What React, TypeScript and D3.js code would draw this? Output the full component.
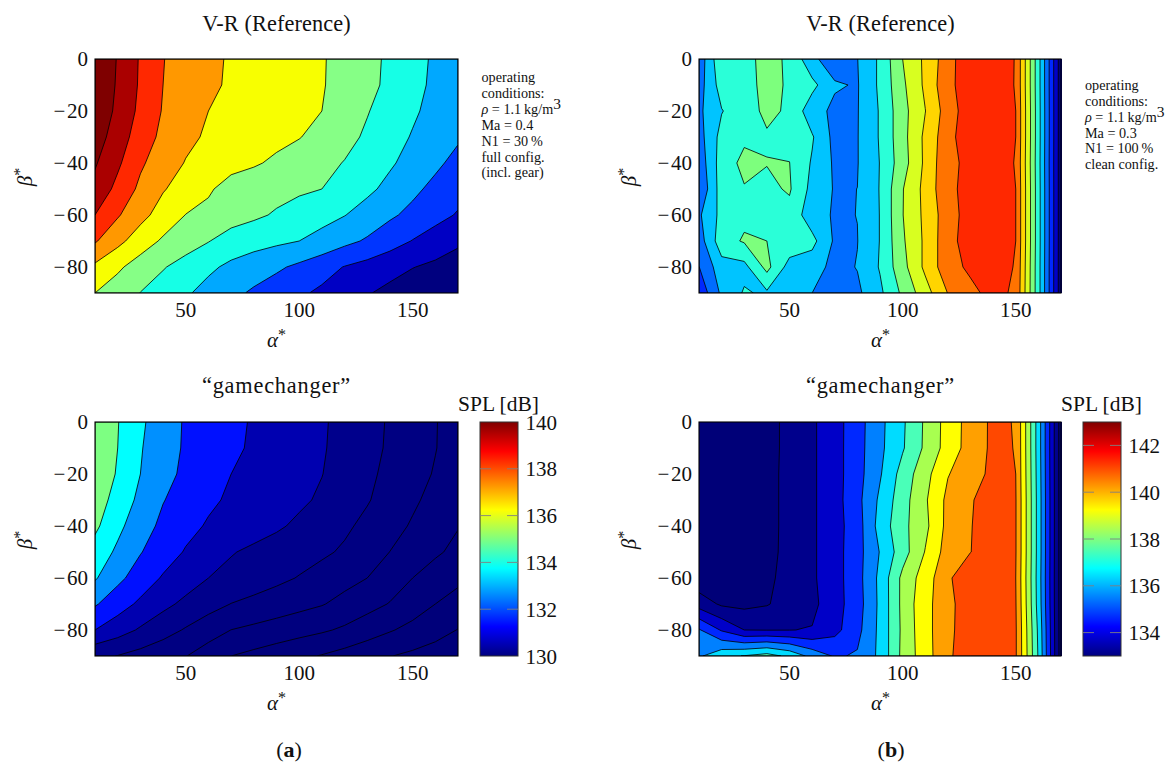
import React from "react";
import * as d3 from "d3";

const alphaGrid = [10, 20, 30, 40, 50, 60, 70, 80, 90, 100, 110, 120, 130, 140, 150, 160, 170];
const betaGrid = [0, -10, -20, -30, -40, -50, -60, -70, -80, -90];
const xTicks = [50, 100, 150];
const yTicks = [0, -20, -40, -60, -80];

// contour-level units, rows follow betaGrid, columns follow alphaGrid
const valuesFullRef = [
  [11, 9.93, 8.9, 8.03, 7.61, 7.21, 6.9, 6.69, 6.48, 6.28, 6.07, 5.71, 5.28, 4.83, 4.34, 3.85, 3.35],
  [10.9, 9.88, 8.87, 8, 7.59, 7.17, 6.88, 6.67, 6.47, 6.26, 6.06, 5.69, 5.25, 4.8, 4.3, 3.8, 3.3],
  [10.8, 9.77, 8.77, 7.93, 7.47, 7, 6.8, 6.6, 6.4, 6.2, 6, 5.52, 5.05, 4.6, 4.14, 3.7, 3.25],
  [10.5, 9.5, 8.53, 7.76, 7.22, 6.87, 6.67, 6.46, 6.25, 6.04, 5.68, 5.28, 4.86, 4.38, 3.93, 3.52, 3.12],
  [10.1, 9.17, 8.15, 7.48, 6.95, 6.67, 6.38, 6.11, 5.83, 5.54, 5.26, 4.96, 4.54, 4.12, 3.67, 3.19, 2.72],
  [9.7, 8.73, 7.79, 7.07, 6.6, 6.15, 5.54, 5.42, 5.29, 5.15, 5, 4.6, 4.2, 3.74, 3.21, 2.75, 2.33],
  [9, 8.1, 7.3, 6.6, 5.98, 5.7, 5.44, 5.17, 4.9, 4.6, 4.3, 4.03, 3.6, 3.15, 2.75, 2.32, 1.92],
  [8.1, 7.27, 6.5, 5.86, 5.45, 5.04, 4.56, 4.37, 4.19, 4, 3.7, 3.26, 2.88, 2.42, 1.96, 1.55, 1.15],
  [6.8, 6.17, 5.55, 5.07, 4.62, 4.18, 3.8, 3.48, 3.16, 2.8, 2.38, 1.96, 1.66, 1.34, 1.03, 0.8, 0.6],
  [6, 5.5, 4.98, 4.55, 4.12, 3.68, 3.25, 2.85, 2.5, 2.15, 1.82, 1.45, 1.07, 0.75, 0.45, 0.2, 0],
];
const valuesFullGame = [
  [11, 10.04, 9.17, 8.47, 7.9, 7.56, 7.23, 6.91, 6.64, 6.37, 6.1, 5.75, 5.33, 4.9, 4.48, 4.04, 3.62],
  [11, 10, 9.07, 8.42, 7.88, 7.53, 7.18, 6.87, 6.6, 6.34, 6.08, 5.71, 5.3, 4.87, 4.45, 4.03, 3.6],
  [10.8, 9.9, 9, 8.32, 7.79, 7.4, 7, 6.76, 6.51, 6.27, 6.02, 5.62, 5.19, 4.77, 4.33, 3.93, 3.5],
  [10.5, 9.63, 8.76, 8.04, 7.6, 7.17, 6.86, 6.62, 6.39, 6.16, 5.87, 5.47, 5.07, 4.62, 4.15, 3.72, 3.3],
  [10.2, 9.24, 8.43, 7.78, 7.29, 6.9, 6.64, 6.38, 6.13, 5.83, 5.5, 5.16, 4.77, 4.33, 3.9, 3.47, 3.04],
  [9.6, 8.82, 8.05, 7.48, 6.92, 6.5, 6.06, 5.82, 5.6, 5.38, 5.16, 4.87, 4.43, 3.99, 3.56, 3.13, 2.78],
  [9.1, 8.23, 7.56, 6.9, 6.45, 6, 5.74, 5.48, 5.22, 4.95, 4.64, 4.32, 4, 3.5, 3, 2.6, 2.2],
  [8.1, 7.45, 6.81, 6.25, 5.78, 5.37, 4.98, 4.75, 4.52, 4.29, 4.06, 3.7, 3.34, 2.95, 2.48, 2, 1.65],
  [7, 6.43, 5.88, 5.39, 4.91, 4.44, 3.99, 3.78, 3.57, 3.35, 3.13, 2.85, 2.46, 2.08, 1.72, 1.35, 0.97],
  [5.18, 4.97, 4.66, 4.34, 4.03, 3.52, 3, 2.74, 2.47, 2.2, 1.94, 1.64, 1.33, 1.03, 0.8, 0.58, 0.35],
];
const valuesCleanRef = [
  [2.35, 4.85, 4.9, 5.1, 4.95, 3.2, 2.5, 2.98, 4.18, 6, 7.2, 8.58, 9.8, 9.9, 8.93, 4.36, -0.6],
  [2.56, 4.45, 4.75, 5.2, 4.92, 4.3, 3.1, 2.93, 4.19, 5.81, 7.19, 8.75, 9.53, 9.85, 8.92, 4.36, -0.6],
  [2.8, 3.95, 4.6, 5.2, 4.87, 3.37, 2.8, 2.95, 4.09, 5.66, 6.98, 8.5, 9.59, 9.8, 9, 4.4, -0.6],
  [2.6, 4.35, 4.83, 4.9, 4.8, 4.1, 2.7, 2.96, 4.09, 5.66, 7.22, 8.64, 9.7, 9.85, 9, 4.4, -0.6],
  [2.36, 4.49, 5.25, 5.03, 5.01, 3.9, 2.85, 2.96, 4.03, 5.57, 7.2, 8.8, 9.2, 9.7, 8.93, 4.36, -0.6],
  [2.07, 4.5, 4.94, 4.8, 5.1, 3.7, 2.92, 3.003, 4.05, 5.95, 7.3, 8.8, 9.28, 9.8, 9, 4.4, -0.6],
  [2.85, 4.3, 4.8, 4.75, 4.7, 3.4, 2.9, 3.01, 4.03, 5.97, 7.24, 8.57, 9.43, 9.8, 9, 4.4, -0.6],
  [2.5, 4.6, 5.1, 5, 4.7, 4.3, 2.85, 2.98, 4.03, 5.86, 7.19, 8.66, 9.47, 9.8, 9, 4.4, -0.6],
  [1.98, 3.6, 3.7, 5.3, 3.6, 3.44, 2.7, 3.04, 4.08, 5.67, 7.22, 8.64, 9.18, 9.7, 8.9, 4.36, -0.6],
  [1.25, 3.2, 4.1, 3.85, 3.4, 3, 2.6, 2.8, 3.8, 5.2, 6.58, 8.03, 8.75, 9.32, 8.83, 4.36, -0.6],
];
const valuesCleanGame = [
  [0.3, 0.4, 0.55, 0.75, 1.2, 1.85, 2.6, 3.6, 4.75, 5.85, 7.15, 8.4, 9.4, 10.2, 9.95, 5.5, 0.5],
  [0.3, 0.4, 0.55, 0.75, 1.2, 1.85, 2.6, 3.62, 4.78, 5.9, 7.18, 8.42, 9.42, 10.2, 9.97, 5.5, 0.5],
  [0.3, 0.4, 0.55, 0.78, 1.2, 1.85, 2.6, 3.62, 4.9, 6.39, 7.66, 8.95, 9.55, 10.25, 10, 5.55, 0.5],
  [0.3, 0.4, 0.55, 0.78, 1.2, 1.85, 2.6, 3.7, 5.19, 6.59, 7.87, 9.25, 9.9, 10.55, 10.05, 5.6, 0.5],
  [0.3, 0.4, 0.5, 0.78, 1.2, 1.85, 2.6, 3.55, 5.39, 6.72, 7.75, 9.3, 9.95, 10.6, 10.05, 5.6, 0.5],
  [0.3, 0.4, 0.5, 0.8, 1.2, 1.85, 2.6, 3.62, 5.05, 6.56, 8.05, 9.45, 9.98, 10.6, 10.05, 5.6, 0.5],
  [0.3, 0.4, 0.5, 0.85, 1.25, 1.85, 2.6, 3.62, 5.25, 7.26, 8.5, 9.8, 10.9, 10.7, 10, 5.55, 0.5],
  [1.55, 0.85, 0.75, 0.93, 1.4, 1.75, 2.6, 3.55, 5.22, 7.27, 8.73, 9.57, 10.9, 10.7, 10.05, 5.6, 0.5],
  [4.1, 2.9, 2, 1.97, 1.98, 2.05, 2.7, 3.7, 5.25, 7.22, 8.69, 9.66, 10.8, 10.7, 10.1, 5.8, 0.5],
  [4.85, 5.7, 6.05, 6.4, 5.76, 4.67, 3.89, 4.1, 5.22, 7.27, 8.57, 9.83, 10.6, 10.6, 10.1, 5.9, 0.5],
];

const levelsFullRef = [1, 2, 3, 4, 5, 6, 7, 8, 9, 10];
const levelsCleanRef = [0, 1, 2, 3, 4, 5, 6, 7, 8, 9];

const bandsFullRef = ["#00007f", "#0000c4", "#0035ff", "#00a8ff", "#16ffe6", "#86ff86", "#f8ff00", "#ff9800", "#ff2800", "#aa0000", "#7f0000"];
const bandsFullGame = ["#00007a", "#00007a", "#00007c", "#00007f", "#000082", "#00008c", "#0000b0", "#0010ff", "#0090ff", "#00ffff", "#7dff82"];
const bandsCleanRef = ["#000080", "#0000c8", "#0028ff", "#006cff", "#00c4ff", "#2affd8", "#7dff7d", "#d8ff20", "#ffd500", "#ff7300", "#ff2800"];
const bandsCleanGame = ["#000078", "#00008c", "#0000c8", "#0028ff", "#0080ff", "#00dcff", "#4affb8", "#a8ff50", "#ffff00", "#ffa000", "#ff4800"];

const jetStops = ["#000080", "#0000ff", "#00ffff", "#ffff00", "#ff0000", "#800000"];
const jetOffsets = [0, 0.125, 0.375, 0.625, 0.875, 1];
const barFullDomain = [130, 140];
const barFullTicks = [130, 132, 134, 136, 138, 140];
const barCleanDomain = [133, 143];
const barCleanTicks = [134, 136, 138, 140, 142];

const notesFull = ["operating", "conditions:", "RHO", "Ma = 0.4", "N1 = 30\u2009%", "full config.", "(incl. gear)"];
const notesClean = ["operating", "conditions:", "RHO", "Ma = 0.3", "N1 = 100\u2009%", "clean config."];

const FONT = "'Liberation Serif', serif";
const PLOT_W = 363;
const PLOT_H = 234;

function fmt(v: number) {
  return v < 0 ? "\u2212\u200a" + Math.abs(v) : String(v);
}

function Contour({ id, left, top, values, levels, bands, title, titleY, titleSpacing }: any) {
  const nx = alphaGrid.length;
  const ny = betaGrid.length;
  const x = d3.scaleLinear().domain([10, 170]).range([left, left + PLOT_W - (left > 600 ? 1 : 0)]);
  const y = d3.scaleLinear().domain([0, -90]).range([top, top + PLOT_H]);
  const colIdx = d3.scaleLinear().domain([0, nx - 1]).range([alphaGrid[0], alphaGrid[nx - 1]]);
  const rowIdx = d3.scaleLinear().domain([0, ny - 1]).range([betaGrid[0], betaGrid[ny - 1]]);
  const flat = (values as number[][]).flat();
  const polys = d3.contours().size([nx, ny]).thresholds(levels)(flat);
  const line = d3.line();
  const toPx = (p: number[]): [number, number] => [
    x(colIdx(Math.max(0, Math.min(nx - 1, p[0] - 0.5)))),
    y(rowIdx(Math.max(0, Math.min(ny - 1, p[1] - 0.5)))),
  ];
  const paths = polys.map((c: any) =>
    c.coordinates
      .flatMap((poly: any) => poly.map((ring: any) => line(ring.map(toPx)) + "Z"))
      .join("")
  );
  const cx = left + PLOT_W / 2;
  return (
    <g>
      <text x={cx} y={titleY} textAnchor="middle" fontSize={22.3} letterSpacing={titleSpacing}>{title}</text>
      <clipPath id={id}><rect x={left} y={top} width={PLOT_W} height={PLOT_H} /></clipPath>
      <g clipPath={`url(#${id})`}>
        <rect x={left} y={top} width={PLOT_W} height={PLOT_H} fill={bands[0]} />
        {paths.map((d: string, i: number) => (
          <path key={i} d={d} fill={bands[i + 1]} fillRule="evenodd" stroke="#000" strokeWidth={0.8} strokeLinejoin="round" />
        ))}
      </g>
      <rect x={left} y={top} width={x.range()[1] - left} height={PLOT_H} fill="none" stroke="#000" strokeWidth={1.1} />
      {xTicks.map((t) => (
        <text key={t} x={x(t)} y={top + PLOT_H + 23.5} textAnchor="middle" fontSize={21}>{t}</text>
      ))}
      {yTicks.map((t) => (
        <text key={t} x={left - 7} y={y(t) + 7} textAnchor="end" fontSize={21}>{fmt(t)}</text>
      ))}
      <text x={cx} y={top + PLOT_H + 54} textAnchor="middle" fontSize={21} fontStyle="italic">
        α<tspan dy={-7} fontSize={16} fontStyle="normal">*</tspan>
      </text>
      <text transform={`translate(${left - 63},${top + 118}) rotate(-90)`} textAnchor="middle" fontSize={21} fontStyle="italic">
        β<tspan dy={-7} fontSize={16} fontStyle="normal">*</tspan>
      </text>
    </g>
  );
}

function ColorBar({ id, left, top, domain, ticks }: any) {
  const y = d3.scaleLinear().domain(domain).range([top + PLOT_H, top]);
  const w = 38;
  return (
    <g>
      <defs>
        <linearGradient id={id} x1="0" y1="1" x2="0" y2="0">
          {jetStops.map((c, i) => (
            <stop key={i} offset={jetOffsets[i]} stopColor={c} />
          ))}
        </linearGradient>
      </defs>
      <rect x={left} y={top} width={w} height={PLOT_H} fill={`url(#${id})`} stroke="#333" strokeWidth={1} />
      {ticks.map((t: number) => (
        <g key={t}>
          {t !== domain[0] && t !== domain[1] && (
            <g stroke="#808080" strokeWidth={0.9}>
              <line x1={left} x2={left + 11} y1={y(t)} y2={y(t)} />
              <line x1={left + w - 11} x2={left + w} y1={y(t)} y2={y(t)} />
            </g>
          )}
          <text x={left + w + 7.5} y={y(t) + 7.5} fontSize={21}>{t}</text>
        </g>
      ))}
      <text x={left + 18.5} y={top - 11} textAnchor="middle" fontSize={21.5}>SPL [dB]</text>
    </g>
  );
}

function Notes({ x, y, lines }: any) {
  return (
    <g fontSize={14.2}>
      {lines.map((s: string, i: number) => (
        <text key={i} x={x} y={y + i * 15.85}>
          {s === "RHO" ? (
            <>
              <tspan fontStyle="italic">ρ</tspan> = 1.1{"\u2009"}kg/m<tspan dy={-5} fontSize={15.5}>3</tspan>
            </>
          ) : (
            s
          )}
        </text>
      ))}
    </g>
  );
}

export default function App() {
  return (
    <svg width={1173} height={762} viewBox="0 0 1173 762" style={{ position: "absolute", left: 0, top: 0, display: "block", background: "#fff" }} fontFamily={FONT} fill="#111">
      <Contour id="c1" left={95} top={59} values={valuesFullRef} levels={levelsFullRef} bands={bandsFullRef} title="V-R (Reference)" titleY={31} titleSpacing={0.1} />
      <Contour id="c2" left={699} top={59} values={valuesCleanRef} levels={levelsCleanRef} bands={bandsCleanRef} title="V-R (Reference)" titleY={31} titleSpacing={0.1} />
      <Contour id="c3" left={95} top={422} values={valuesFullGame} levels={levelsFullRef} bands={bandsFullGame} title="“gamechanger”" titleY={393} titleSpacing={0.8} />
      <Contour id="c4" left={699} top={422} values={valuesCleanGame} levels={levelsFullRef} bands={bandsCleanGame} title="“gamechanger”" titleY={393} titleSpacing={0.8} />
      <ColorBar id="g1" left={480} top={422} domain={barFullDomain} ticks={barFullTicks} />
      <ColorBar id="g2" left={1083} top={422} domain={barCleanDomain} ticks={barCleanTicks} />
      <Notes x={481.5} y={82.3} lines={notesFull} />
      <Notes x={1085} y={90} lines={notesClean} />
      <text x={289} y={756.5} textAnchor="middle" fontSize={22}>(<tspan fontWeight="bold">a</tspan>)</text>
      <text x={891} y={756.5} textAnchor="middle" fontSize={22}>(<tspan fontWeight="bold">b</tspan>)</text>
    </svg>
  );
}
